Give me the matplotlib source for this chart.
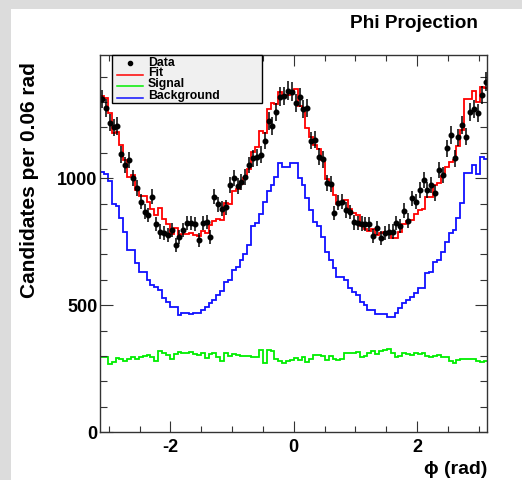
import numpy as np
import matplotlib
matplotlib.use("Agg")
import matplotlib.pyplot as plt
from matplotlib.patches import Rectangle
from matplotlib.lines import Line2D
from matplotlib.ticker import MultipleLocator

plt.rcParams['font.family'] = ['Liberation Sans', 'DejaVu Sans']
plt.rcParams['font.weight'] = 'bold'
plt.rcParams['axes.unicode_minus'] = False

# candidates per bin (100 bins over -pi..pi)
data = [1311, 1275, 1219, 1200, 1206, 1094, 1052, 1072, 1000, 961,
        908, 869, 855, 928, 820, 790, 783, 776, 796, 737,
        770, 796, 823, 823, 820, 757, 823, 827, 770, 928,
        898, 880, 885, 974, 1000, 970, 985, 1005, 1052, 1079,
        1082, 1092, 1148, 1226, 1206, 1262, 1321, 1324, 1345, 1341,
        1297, 1318, 1272, 1276, 1147, 1151, 1085, 1075, 980, 977,
        863, 904, 908, 875, 867, 826, 823, 821, 820, 820,
        774, 803, 764, 785, 790, 790, 823, 812, 872, 833,
        921, 908, 954, 993, 954, 974, 941, 1033, 1013, 1118,
        1170, 1079, 1161, 1210, 1164, 1262, 1272, 1256, 1328, 1380]

background = [1026, 1017, 988, 899, 889, 843, 790, 718, 718, 665,
              632, 632, 600, 580, 573, 560, 527, 514, 494, 494,
              461, 468, 468, 466, 468, 468, 480, 494, 507, 521,
              540, 555, 590, 600, 640, 652, 678, 700, 737, 810,
              823, 860, 905, 950, 974, 1006, 1059, 1046, 1046, 1059,
              1059, 1000, 974, 921, 875, 829, 810, 770, 711, 678,
              646, 613, 613, 600, 567, 554, 540, 514, 501, 481,
              481, 466, 466, 466, 455, 455, 468, 488, 507, 521,
              534, 547, 567, 567, 626, 632, 672, 678, 711, 750,
              783, 796, 842, 902, 1022, 1022, 1052, 1017, 1083, 1075]

signal = [298, 298, 268, 278, 291, 288, 282, 288, 296, 288,
          298, 300, 305, 298, 282, 321, 313, 304, 288, 309,
          317, 311, 313, 317, 309, 305, 311, 291, 309, 311,
          298, 282, 311, 300, 309, 305, 300, 300, 300, 295,
          298, 324, 272, 324, 321, 288, 282, 274, 282, 285,
          293, 285, 298, 277, 288, 303, 305, 300, 285, 300,
          288, 285, 288, 313, 313, 311, 317, 298, 300, 313,
          318, 309, 319, 324, 329, 311, 298, 300, 313, 309,
          303, 311, 309, 313, 300, 295, 300, 305, 298, 295,
          282, 274, 285, 288, 288, 290, 290, 282, 278, 282]

background = np.array(background, dtype=float)
signal = np.array(signal, dtype=float)
data = np.array(data, dtype=float)
fit = background + signal

edges = np.linspace(-np.pi, np.pi, len(data) + 1)
centers = 0.5 * (edges[:-1] + edges[1:])

fig = plt.figure(figsize=(5.22, 4.8), dpi=100)
fig.patch.set_facecolor('#dcdcdc')
fig.add_artist(Rectangle((11 / 522, 0), 1, 1 - 9 / 480, transform=fig.transFigure,
                         facecolor='white', edgecolor='none', zorder=-10))

ax = fig.add_axes([0.1916, 0.0994, 0.7423, 0.786])

ax.stairs(signal, edges, color='#00ee00', lw=1.3, baseline=None)
ax.stairs(background, edges, color='#1010ff', lw=1.3, baseline=None)
ax.stairs(fit, edges, color='#ff0000', lw=1.3, baseline=None)
ax.errorbar(centers, data, yerr=np.sqrt(data), fmt='o', ms=3.3, color='black',
            elinewidth=1.1, capsize=0)

ax.set_xlim(-np.pi, np.pi)
ax.set_ylim(0, 1485)

ax.xaxis.set_major_locator(MultipleLocator(2))
ax.xaxis.set_minor_locator(MultipleLocator(0.5))
ax.yaxis.set_major_locator(MultipleLocator(500))
ax.yaxis.set_minor_locator(MultipleLocator(100))
ax.tick_params(which='both', direction='in', top=True, right=True,
               labelsize=13, width=0.8, color='#333333')
ax.tick_params(axis='x', which='major', length=8, pad=5)
ax.tick_params(axis='x', which='minor', length=4)
ax.tick_params(axis='y', which='major', length=9, pad=2)
ax.tick_params(axis='y', which='minor', length=5)
for sp in ax.spines.values():
    sp.set_color('#333333')
    sp.set_linewidth(1.0)

fig.text(30 / 522, 1 - 180 / 480, 'Candidates per 0.06 rad', rotation=90,
         ha='center', va='center', fontsize=15, weight='bold')
fig.text(487 / 522, 1 - 470 / 480, '\u03d5 (rad)', ha='right', va='center',
         fontsize=14, weight='bold')
fig.text(478 / 522, 1 - 24 / 480, 'Phi Projection', ha='right', va='center',
         fontsize=13.7, weight='bold')

# legend box (ROOT style)
ax.add_patch(Rectangle((0.030, 0.872), 0.387, 0.128, transform=ax.transAxes,
                       facecolor='#f0f0f0', edgecolor='black', lw=1.0,
                       zorder=5, clip_on=False))
ax.add_line(Line2D([0.077], [0.979], transform=ax.transAxes, marker='o', ms=3,
                   color='black', ls='none', zorder=6))
rows = [('Data', None, 0.980), ('Fit', '#ff0000', 0.951),
        ('Signal', '#00ee00', 0.923), ('Background', '#1010ff', 0.891)]
for label, col, yy in rows:
    if col is not None:
        ax.add_line(Line2D([0.043, 0.111], [yy - 0.004, yy - 0.004],
                           transform=ax.transAxes, color=col, lw=1.1, zorder=6))
    ax.text(0.124, yy, label, transform=ax.transAxes, ha='left', va='center',
            fontsize=8.8, weight='bold', zorder=7)

fig.savefig('out.png', dpi=100)
